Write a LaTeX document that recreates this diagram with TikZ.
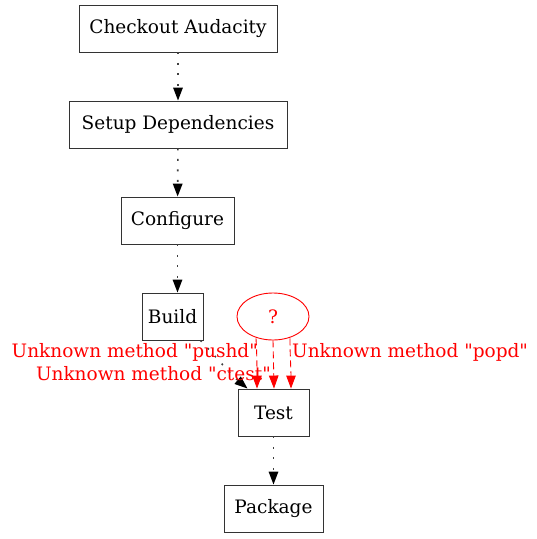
\documentclass[tikz,border=0pt]{standalone}
\usepackage{fontspec}
\newfontfamily\dvs{DejaVu Serif}
\usetikzlibrary{arrows.meta,shapes.geometric,calc}
\begin{document}
\begin{tikzpicture}[x=1pt,y=-1pt,
  txt/.style={font=\dvs\fontsize{18.5}{22}\selectfont},
  box/.style={txt,draw=black!80,line width=0.9pt,minimum height=47pt,inner sep=0pt},
  qnode/.style={txt,draw=red,ellipse,line width=0.9pt,minimum width=72pt,minimum height=47pt,inner sep=0pt,text=red},
  flow/.style={draw=black!75,line width=1.6pt,dash pattern=on 1.8pt off 8.7pt,-{Triangle[length=13pt,width=9.5pt,fill=black,color=black]}},
  unk/.style={draw=red,line width=0.9pt,dash pattern=on 7pt off 4pt,-{Triangle[length=13pt,width=9.5pt]}},
  lbl/.style={txt,text=red,inner sep=0pt}]
\useasboundingbox (0,0) rectangle (537,539);
\node[box,minimum width=198pt] (co) at (178,28.5) {Checkout Audacity};
\node[box,minimum width=218pt] (sd) at (178,124.5) {Setup Dependencies};
\node[box,minimum width=113pt] (cf) at (177.5,220.5) {Configure};
\node[box,minimum width=61pt] (bd) at (172.5,316.5) {Build};
\node[qnode] (q) at (273,316.5) {?};
\node[box,minimum width=71pt] (ts) at (273.5,412.5) {Test};
\node[box,minimum width=99pt] (pk) at (273.5,508.5) {Package};
\coordinate (b1) at ($(bd.south east)+(-3,0)$);
\coordinate (t0) at ($(ts.north west)+(10,0)$);
\draw[flow] (co) -- (sd);
\draw[flow] (sd) -- (cf);
\draw[flow] (cf.south -| 177.5,0) -- (bd.north -| 177.5,0);
\draw[flow] (b1) .. controls (212,352) and (228,372) .. (t0);
\draw[flow] (ts) -- (pk);
\coordinate (q1) at ($(q.south)+(-17,-2)$);
\coordinate (q3) at ($(q.south)+(17,-2)$);
\coordinate (t1) at (ts.north -| 257,0);
\coordinate (t2) at (ts.north -| 274,0);
\coordinate (t3) at (ts.north -| 291,0);
\draw[unk] (q1) .. controls (257,355) and (257,370) .. (t1);
\draw[unk] (q.south) -- (t2);
\draw[unk] (q3) .. controls (290,355) and (291,370) .. (t3);
\node[lbl,anchor=east] (l1) at (258,352) {Unknown method "pushd"};
\node[lbl,anchor=east] (l2) at (271,374) {Unknown method "ctest"};
\node[lbl,anchor=west] (l3) at (292,352) {Unknown method "popd"};
\end{tikzpicture}
\end{document}
